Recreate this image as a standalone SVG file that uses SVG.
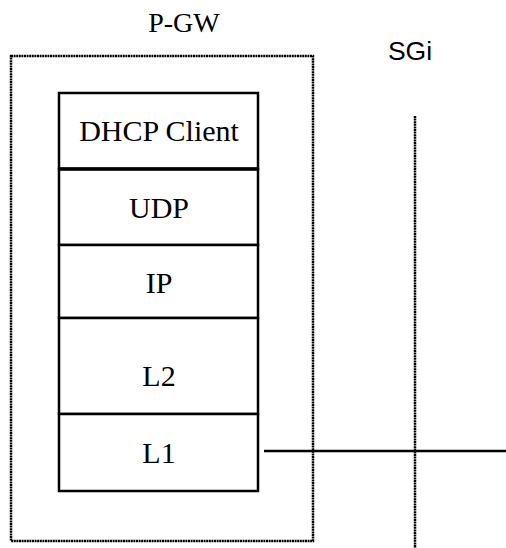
<svg xmlns="http://www.w3.org/2000/svg" width="506" height="548" viewBox="0 0 506 548">
<style>
.layer{fill:#fff;stroke:#000;stroke-width:2.5}
.lbl{font-family:"Liberation Serif","Times New Roman",serif;font-size:30px;text-anchor:middle;fill:#000}
.dot{fill:none;stroke:#000;stroke-width:2.5;stroke-dasharray:2 0.6}
.sans{font-family:"Liberation Sans",Arial,sans-serif;font-size:26.5px;text-anchor:middle;fill:#000}
</style>
<rect width="506" height="548" fill="#fff"/>
<g id="pgw">
<rect class="dot" x="11" y="56" width="302" height="485"/>
<text class="lbl" x="184" y="32" style="font-size:28px">P-GW</text>
</g>
<g id="sgi">
<text class="sans" x="410" y="60">SGi</text>
</g>
<g id="dhcp"><rect class="layer" x="59" y="93" width="199" height="76"/><text class="lbl" x="159" y="141">DHCP Client</text></g>
<g id="udp"><rect class="layer" x="59" y="169" width="199" height="76"/><text class="lbl" x="159" y="218">UDP</text></g>
<g id="ip"><rect class="layer" x="59" y="245" width="199" height="73"/><text class="lbl" x="159" y="293">IP</text></g>
<g id="l2"><rect class="layer" x="59" y="318" width="199" height="96"/><text class="lbl" x="159" y="386">L2</text></g>
<g id="l1"><rect class="layer" x="59" y="414" width="199" height="77"/><text class="lbl" x="159" y="463">L1</text></g>
<line x1="59" y1="169" x2="258" y2="169" stroke="#000" stroke-width="3.5"/>
<g id="connectors">
<line class="dot" x1="415" y1="116" x2="415" y2="548"/>
<line x1="264" y1="451" x2="506" y2="451" stroke="#000" stroke-width="2.5"/>
</g>
</svg>
